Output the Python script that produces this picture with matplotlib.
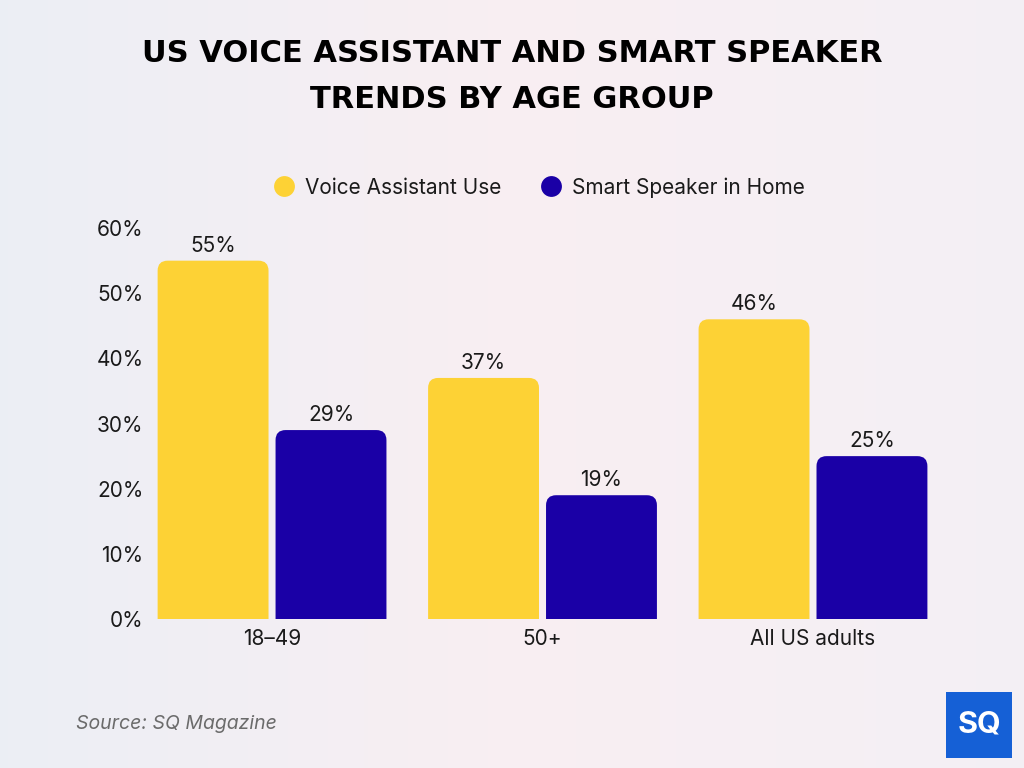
import matplotlib.pyplot as plt
import numpy as np
from matplotlib.patches import FancyBboxPatch, Rectangle
from matplotlib.lines import Line2D

groups = ['18–49', '50+', 'All US adults']
voice = [55, 37, 46]
speaker = [29, 19, 25]
series_names = ['Voice Assistant Use', 'Smart Speaker in Home']
yticks = [0, 10, 20, 30, 40, 50, 60]

YELLOW = '#FDD235'
BLUE = '#1A00A6'
FONT = ['Inter', 'DejaVu Sans']
FS = 15

fig = plt.figure(figsize=(10.24, 7.68), dpi=100)

# fondo degradado
bg = fig.add_axes([0, 0, 1, 1], zorder=-10)
xx = np.linspace(0, 1, 256)
c1 = np.array([0.925, 0.935, 0.960])
c2 = np.array([0.975, 0.935, 0.950])
c3 = np.array([0.955, 0.940, 0.960])
t = xx[:, None]
grad = np.where(t < 0.5, c1 + (c2 - c1) * (t / 0.5), c2 + (c3 - c2) * ((t - 0.5) / 0.5))
img = np.tile(grad[None, :, :], (10, 1, 1))
bg.imshow(img, aspect='auto', extent=[0, 1, 0, 1])
bg.axis('off')

ax = fig.add_axes([0.1468, 0.194, 0.766, 0.509])
ax.set_xlim(-0.45, 2.45)
ax.set_ylim(0, 60)
ax.patch.set_alpha(0)

w = 0.41
off = 0.218
r_x = 0.037
asp = 41.5
x = np.arange(len(groups))

for vals, sign, col in [(voice, -1, YELLOW), (speaker, 1, BLUE)]:
    for xi, v in zip(x, vals):
        left = xi + sign * off - w / 2
        # la parte de abajo queda por debajo de 0 y se recorta
        ax.add_patch(FancyBboxPatch((left, -5), w, v + 5,
                                    boxstyle=f'round,pad=0,rounding_size={r_x}',
                                    mutation_aspect=asp, fc=col, ec='none',
                                    clip_on=True))
        ax.annotate(f'{v}%', (xi + sign * off, v), xytext=(0, 3.5),
                    textcoords='offset points', ha='center', va='bottom',
                    fontsize=FS, color='#1a1a1a', family=FONT)

ax.set_xticks(x)
ax.set_xticklabels(groups, fontsize=FS, family=FONT, color='#1a1a1a')
ax.set_yticks(yticks)
ax.set_yticklabels([f'{v}%' for v in yticks], fontsize=FS, family=FONT, color='#1a1a1a')
ax.tick_params(length=0)
ax.tick_params(axis='x', pad=7)
ax.tick_params(axis='y', pad=5)
for s in ax.spines.values():
    s.set_visible(False)

handles = [Line2D([], [], marker='o', ls='none', ms=15, mfc=YELLOW, mec='none'),
           Line2D([], [], marker='o', ls='none', ms=15, mfc=BLUE, mec='none')]
fig.legend(handles, series_names, loc='center', bbox_to_anchor=(0.5215, 0.756),
           ncol=2, frameon=False, prop={'family': FONT, 'size': FS},
           handletextpad=0.0, columnspacing=1.4, labelcolor='#1a1a1a')

fig.text(0.5, 0.930, 'US VOICE ASSISTANT AND SMART SPEAKER', ha='center', va='center',
         fontsize=22, fontweight='bold', family='DejaVu Sans', color='black')
fig.text(0.5, 0.870, 'TRENDS BY AGE GROUP', ha='center', va='center',
         fontsize=22, fontweight='bold', family='DejaVu Sans', color='black')

fig.text(0.074, 0.057, 'Source: SQ Magazine', ha='left', va='center', fontsize=14,
         style='italic', color='#6b6b6b', family=FONT)

# logo
fig.patches.append(Rectangle((946 / 1024, 10 / 768), 66 / 1024, 66 / 768,
                             transform=fig.transFigure, fc='#1560D6', ec='none'))
fig.text(979 / 1024, 43 / 768, 'SQ', ha='center', va='center', fontsize=22,
         fontweight='bold', color='white', family=FONT)

fig.savefig('out.png', dpi=100)
